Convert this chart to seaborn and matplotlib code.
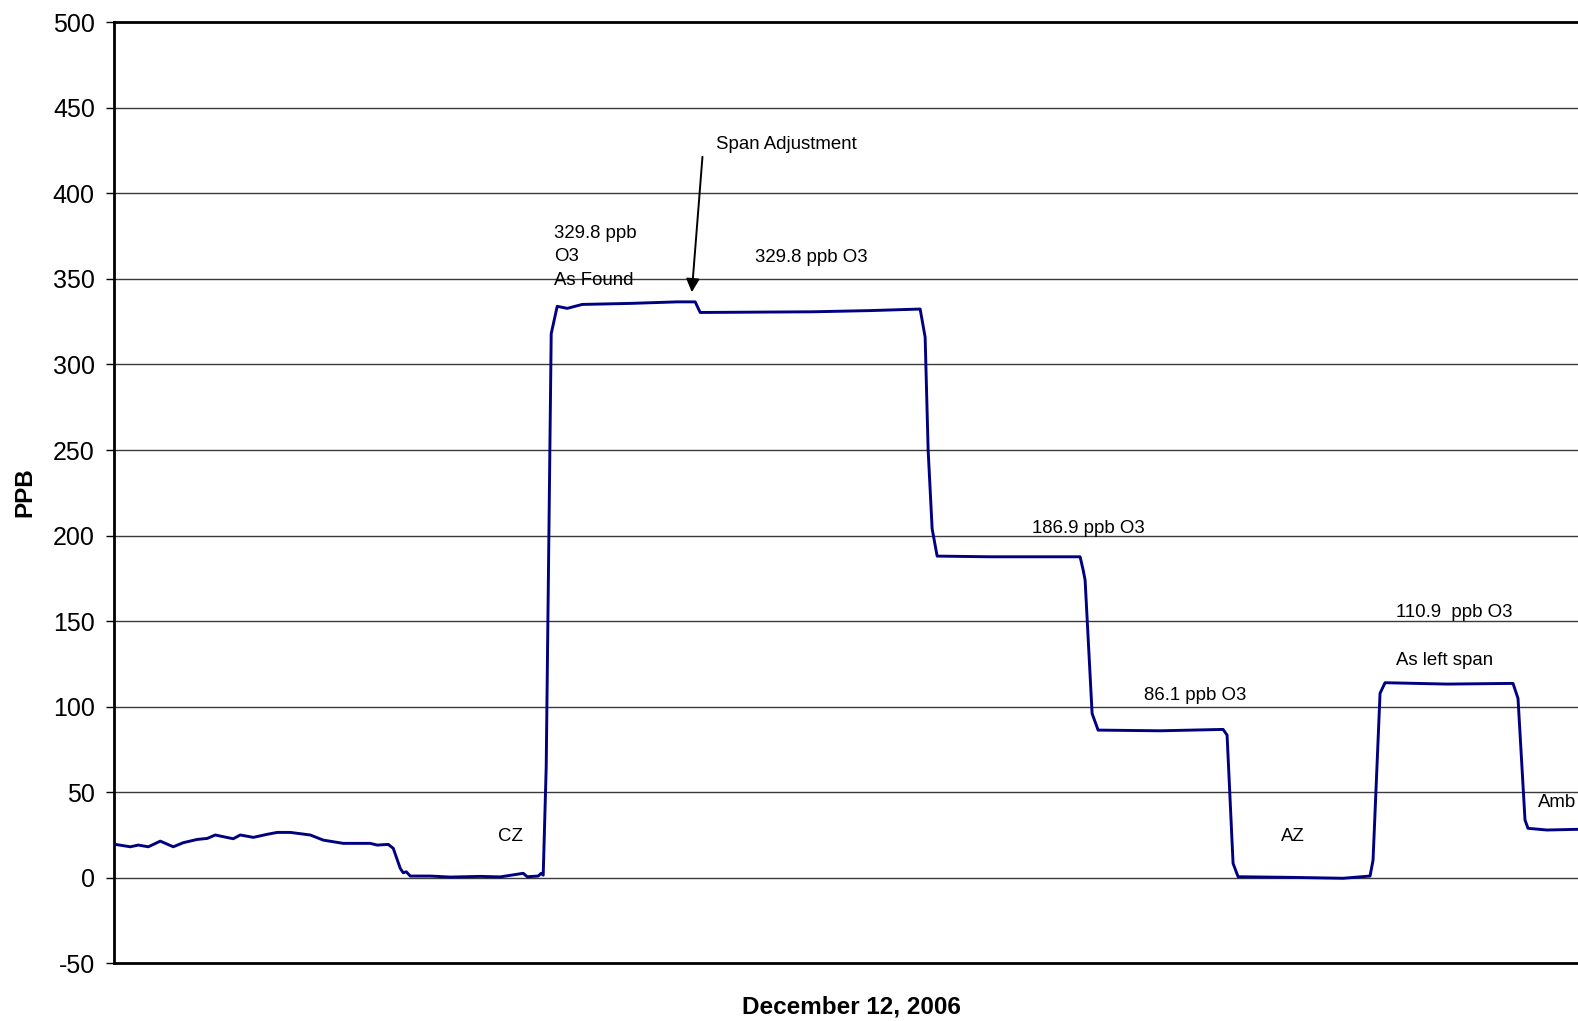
import pandas as pd
import matplotlib.pyplot as plt
import seaborn as sns

# Dati (campione progressivo, ppb O3)
campione = [1, 16, 24, 34, 46, 59, 69, 83, 93, 101, 109, 119, 126, 139, 153, 163, 176,
            196, 209, 229, 256, 263, 274, 279, 286, 289, 292, 296, 316, 336, 366, 386,
            409, 413, 424, 427, 429, 432, 437, 443, 453, 468, 516, 563, 581, 586, 699,
            756, 806, 811, 814, 818, 823, 876, 966, 969, 971, 978, 984, 1046, 1109, 1113,
            1119, 1124, 1179, 1229, 1256, 1259, 1266, 1271, 1333, 1399, 1404, 1411, 1414,
            1433, 1463, 1476]
ppb = [19.5, 18.1, 19.1, 18.1, 21.4, 18.1, 20.5, 22.4, 23.0, 25.0, 24.0, 22.8, 25.0, 23.6,
       25.4, 26.5, 26.5, 25.0, 22.0, 20.1, 20.1, 19.1, 19.5, 17.2, 5.5, 2.9, 3.5, 1.0, 1.0,
       0.4, 0.8, 0.5, 2.6, 0.6, 1.0, 2.6, 1.5, 65.0, 318.0, 334.0, 332.8, 335.1, 335.7,
       336.6, 336.6, 330.4, 330.8, 331.5, 332.4, 316.0, 250.0, 204.0, 188.0, 187.6, 187.6,
       180.0, 174.0, 96.0, 86.3, 85.9, 86.7, 83.4, 8.4, 0.6, 0.2, -0.3, 1.0, 10.3, 107.8,
       114.0, 113.2, 113.6, 104.8, 33.7, 28.9, 27.9, 28.3, 28.0]

y_ticks = list(range(-50, 501, 50))

df = pd.DataFrame({'campione': campione, 'ppb': ppb})

sns.set_theme(style="white")
plt.rcParams['font.family'] = ['Liberation Sans', 'DejaVu Sans']
plt.rcParams['axes.unicode_minus'] = False
plt.rcParams['text.color'] = 'black'
plt.rcParams['ytick.color'] = 'black'
plt.rcParams['ytick.labelcolor'] = 'black'

fig = plt.figure(figsize=(15.78, 10.21), dpi=100)
ax = fig.add_axes([114.3 / 1578, 57.7 / 1021, (1590 - 114.3) / 1578, 941 / 1021])

for v in y_ticks[1:-1]:
    ax.axhline(v, color='#3a3a3a', lw=1.0, zorder=1)

sns.lineplot(data=df, x='campione', y='ppb', color='#000080', lw=2.1, ax=ax, zorder=3)

ax.set_xlim(0, 1476)
ax.set_ylim(-50, 500)
ax.set_yticks(y_ticks)
ax.set_xticks([])
ax.tick_params(axis='y', direction='out', length=6, width=1, color='black',
               labelsize=18, pad=8, left=True)

for lato in ['left', 'bottom', 'top']:
    ax.spines[lato].set_color('black')
    ax.spines[lato].set_linewidth(2)
ax.spines['right'].set_visible(False)

ax.set_xlabel('')
ax.set_ylabel('')
fig.text(851 / 1578, 1 - 1007 / 1021, 'December 12, 2006', ha='center', va='center',
         fontsize=17.5, weight='bold')
fig.text(25 / 1578, 1 - 492 / 1021, 'PPB', ha='center', va='center', rotation=90,
         fontsize=17.5, weight='bold')

fs = 13.4
ax.text(439.5, 363.0, '329.8 ppb\nO3\nAs Found', fontsize=fs, va='center', linespacing=1.5)
ax.text(601.6, 428.8, 'Span Adjustment', fontsize=fs, va='center')
ax.annotate('', xy=(577.4, 340.6), xytext=(588.5, 423.0),
            arrowprops=dict(arrowstyle='-|>', color='black', lw=1.4, mutation_scale=20))
ax.text(640.8, 362.4, '329.8 ppb O3', fontsize=fs, va='center')
ax.text(917.6, 204.1, '186.9 ppb O3', fontsize=fs, va='center')
ax.text(1030.3, 106.5, '86.1 ppb O3', fontsize=fs, va='center')
ax.text(384, 24.2, 'CZ', fontsize=fs, va='center')
ax.text(1167, 24.2, 'AZ', fontsize=fs, va='center')
ax.text(1282, 155.3, '110.9  ppb O3', fontsize=fs, va='center')
ax.text(1282, 127.1, 'As left span', fontsize=fs, va='center')
ax.text(1424, 44.2, 'Amb', fontsize=fs, va='center')

fig.savefig('out.png', dpi=100)
